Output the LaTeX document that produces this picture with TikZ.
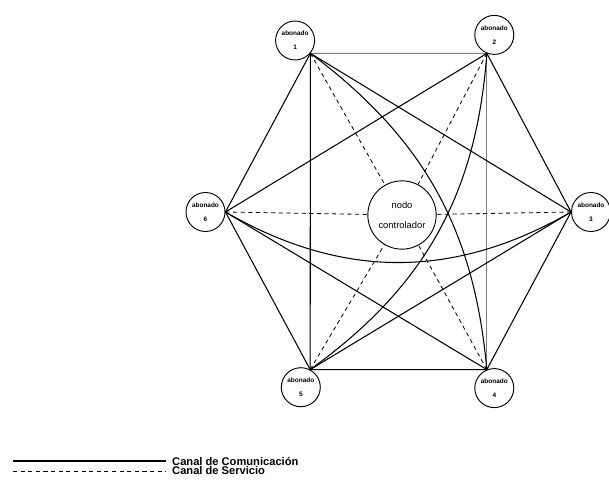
\documentclass[tikz,border=0pt]{standalone}
\usepackage{fontspec}
\setmainfont{Liberation Sans}
\usetikzlibrary{positioning}

\begin{document}
\begin{tikzpicture}[
      x=0.03cm, y=0.03cm,
      every node/.style={font=\fontsize{5.5}{12}\selectfont\bfseries},
      abonado/.style={circle, draw, thick, minimum size=1.17cm, inner sep=0pt, align=center},
      central/.style={circle, draw, thick, minimum size=2.05cm, inner sep=0pt, align=center, font=\fontsize{8}{17}\selectfont},
      leyenda/.style={right, inner sep=0pt, font=\fontsize{9.5}{11}\selectfont\bfseries},
      comunic/.style={line width=0.9pt},
      servicio/.style={line width=0.7pt, dash pattern=on 3.5pt off 3pt}
    ]
      \useasboundingbox (0,0) rectangle (609,-482);

      \node[central] (ctrl) at (402,-215) {nodo\\controlador};
      \node[abonado] (ab1) at (295.1,-40.5) {abonado\\1};
      \node[abonado] (ab2) at (494.3,-34.9) {abonado\\2};
      \node[abonado] (ab3) at (591,-212) {abonado\\3};
      \node[abonado] (ab4) at (494.3,-388.1) {abonado\\4};
      \node[abonado] (ab5) at (300.8,-387.2) {abonado\\5};
      \node[abonado] (ab6) at (205.5,-212) {abonado\\6};

      % canales de servicio
      \foreach \a in {ab1.-40, ab2.-112, ab3.west, ab4.112, ab5.62, ab6.east}
        \draw[servicio] (\a) -- (ctrl);

      % canales de comunicacion
      \draw[comunic] (ab1.-40) -- (ab6.east) -- (ab5.62) -- (ab4.112) -- (ab3.west) -- (ab2.-112);
      \draw[comunic, gray] (ab2.-112) -- (ab1.-40);
      \draw[comunic, gray] (ab2.-112) -- (ab4.112);
      \draw[comunic] (ab1.-40) -- (ab5.62);
      \draw[comunic] (ab1.-40) -- (ab3.west);
      \draw[comunic] (ab6.east) -- (ab2.-112);
      \draw[comunic] (ab6.east) -- (ab4.112);
      \draw[comunic] (ab5.62) -- (ab3.west);
      \draw[comunic] (ab1.-40) to[bend left=24] (ab4.112);
      \draw[comunic] (ab2.-112) to[bend left=25] (ab5.62);
      \draw[comunic] (ab6.east) to[bend right=30] (ab3.west);

      % leyenda
      \node[leyenda] (txtcom) at (172,-461) {Canal de Comunicación};
      \node[leyenda] (txtser) at (172,-471) {Canal de Servicio};
      \coordinate (lcom) at (13,-461);
      \coordinate (lser) at (13,-471);
      \draw[comunic] (lcom) -- ([xshift=-5pt]txtcom.west);
      \draw[servicio] (lser) -- ([xshift=-5pt]txtser.west);
    \end{tikzpicture}
\end{document}
